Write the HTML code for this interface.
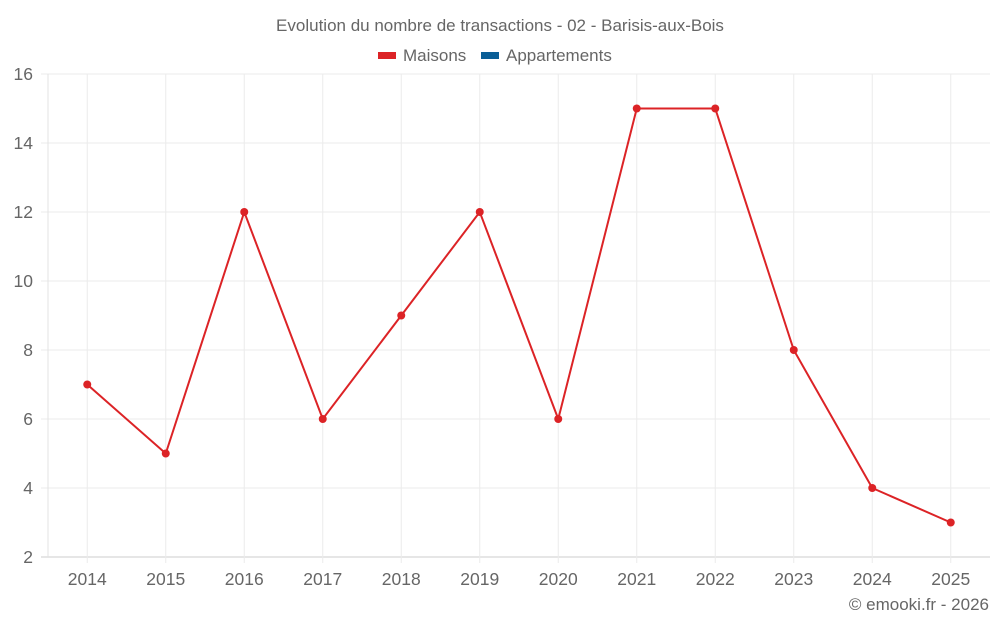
<!DOCTYPE html>
<html><head><meta charset="utf-8"><style>
body{margin:0;background:#fff;}
svg text{font-family:"Liberation Sans",sans-serif;fill:#666;}
</style></head><body>
<svg id="c" width="1000" height="625" viewBox="0 0 1000 625">
<text x="500" y="31" text-anchor="middle" font-size="17">Evolution du nombre de transactions - 02 - Barisis-aux-Bois</text>
<g><rect x="378" y="52" width="18" height="7" fill="#dc2326"/><text x="403" y="61" font-size="17">Maisons</text></g>
<g><rect x="481" y="52" width="18" height="7" fill="#0a5e96"/><text x="506" y="61" font-size="17">Appartements</text></g>
<text x="989" y="610" text-anchor="end" font-size="17">© emooki.fr - 2026</text>
<g id="grid"></g><g id="axes"></g><g id="series"></g>
</svg>
<script>
const categories=["2014","2015","2016","2017","2018","2019","2020","2021","2022","2023","2024","2025"];
const maisons=[7,5,12,6,9,12,6,15,15,8,4,3];
const yTicks=[2,4,6,8,10,12,14,16];
const L=48,R=990,T=74,B=557,yMin=2,yMax=16;
const bw=(R-L)/categories.length;
const xs=i=>L+bw*(i+0.5);
const ys=v=>B-(v-yMin)/(yMax-yMin)*(B-T);
const NS="http://www.w3.org/2000/svg";
function mk(t,a,p){const e=document.createElementNS(NS,t);for(const k in a)e.setAttribute(k,a[k]);p.appendChild(e);return e;}
const g=document.getElementById('grid'),ax=document.getElementById('axes'),s=document.getElementById('series');
yTicks.forEach(v=>{const y=ys(v);
const l=mk('line',{x1:41,x2:R,y1:y,y2:y,stroke:v===yMin?'#ccc':'#ebebeb','stroke-width':1},g);


const t=mk('text',{x:33,y:y+6,'text-anchor':'end','font-size':17.5},ax);t.textContent=v;

});
const a=mk('line',{x1:L,x2:L,y1:T,y2:B,stroke:'#e3e3e3'},g);


categories.forEach((c,i)=>{const x=xs(i);
const l=mk('line',{x1:x,x2:x,y1:T,y2:B+6,stroke:'#ebebeb'},g);


const t=mk('text',{x:x,y:585,'text-anchor':'middle','font-size':17.5},ax);t.textContent=c;

});
const p=mk('polyline',{points:maisons.map((v,i)=>xs(i)+','+ys(v)).join(' '),fill:'none',stroke:'#dc2326','stroke-width':2},s);


maisons.forEach((v,i)=>{const c=mk('circle',{cx:xs(i),cy:ys(v),r:4,fill:'#dc2326'},s);

});
</script>
</body></html>
